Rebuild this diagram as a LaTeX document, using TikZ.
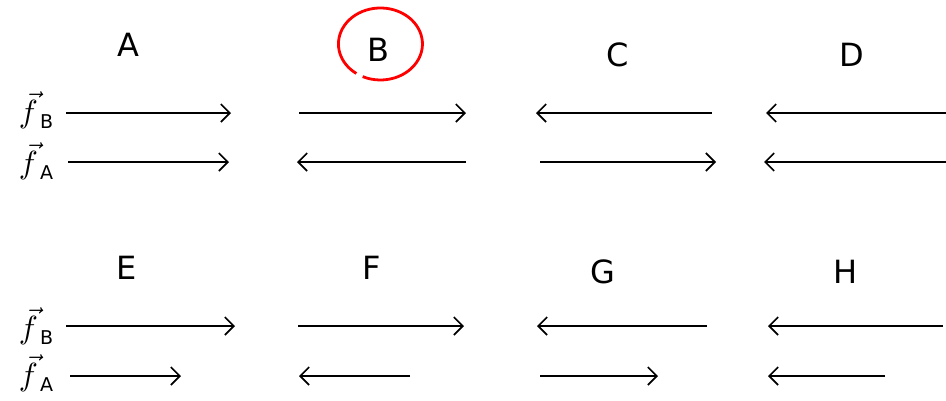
\documentclass[tikz,border=0pt]{standalone}
\usepackage{fontspec}
\setsansfont{DejaVu Sans}
\usetikzlibrary{arrows.meta}
\begin{document}
\begin{tikzpicture}[x=1pt,y=-1pt,
  force/.style={line width=2pt,-{Straight Barb[length=9pt,width=18pt,line width=1.6pt]}},
  letter/.style={font=\sffamily\fontsize{32}{36}\selectfont\mdseries},
  flabel/.style={inner sep=0pt}]
\useasboundingbox (0,0) rectangle (946,400);
\newcommand{\flab}[1]{\scalebox{3.2}{$\vec{f}$}\kern2pt\raisebox{-6pt}{\sffamily\fontsize{19}{19}\selectfont #1}}
% letters
\node[letter] (lA) at (128,45) {A};
\node[letter] (lB) at (378,50) {B};
\node[letter] (lC) at (618,55) {C};
\node[letter] (lD) at (852,55) {D};
\node[letter] (lE) at (127,268) {E};
\node[letter] (lF) at (372,268) {F};
\node[letter] (lG) at (603,272) {G};
\node[letter] (lH) at (846,272) {H};
\coordinate (cB) at ([shift={(2,-6)}]lB.center);
\draw[red, line width=2.8pt] ([shift={(-17.3,32.6)}]cB) arc[start angle=115, end angle=-235, x radius=42, y radius=36];
% side labels
\node[flabel] (fB1) at (36,110) {\flab{B}};
\node[flabel] (fA1) at (36,161) {\flab{A}};
\node[flabel] (fB2) at (36,326) {\flab{B}};
\node[flabel] (fA2) at (36,373) {\flab{A}};
% endpoints
\coordinate (a1s) at (66,113);  \coordinate (a1e) at (231,113);
\coordinate (a2s) at (68,162);  \coordinate (a2e) at (229,162);
\coordinate (b1s) at (299,113); \coordinate (b1e) at (466,113);
\coordinate (b2s) at (466,162); \coordinate (b2e) at (297,162);
\coordinate (c1s) at (712,113); \coordinate (c1e) at (536,113);
\coordinate (c2s) at (540,162); \coordinate (c2e) at (716,162);
\coordinate (d1s) at (946,113); \coordinate (d1e) at (766,113);
\coordinate (d2s) at (946,162); \coordinate (d2e) at (764,162);
\coordinate (e1s) at (66,326);  \coordinate (e1e) at (235,326);
\coordinate (e2s) at (70,376);  \coordinate (e2e) at (181,376);
\coordinate (f1s) at (298,326); \coordinate (f1e) at (464,326);
\coordinate (f2s) at (410,376); \coordinate (f2e) at (299,376);
\coordinate (g1s) at (707,326); \coordinate (g1e) at (537,326);
\coordinate (g2s) at (540,376); \coordinate (g2e) at (658,376);
\coordinate (h1s) at (943,326); \coordinate (h1e) at (768,326);
\coordinate (h2s) at (885,376); \coordinate (h2e) at (768,376);
\foreach \p in {a1,a2,b1,b2,c1,c2,d1,d2,e1,e2,f1,f2,g1,g2,h1,h2}
  \draw[force] (\p s) -- (\p e);
\end{tikzpicture}
\end{document}
